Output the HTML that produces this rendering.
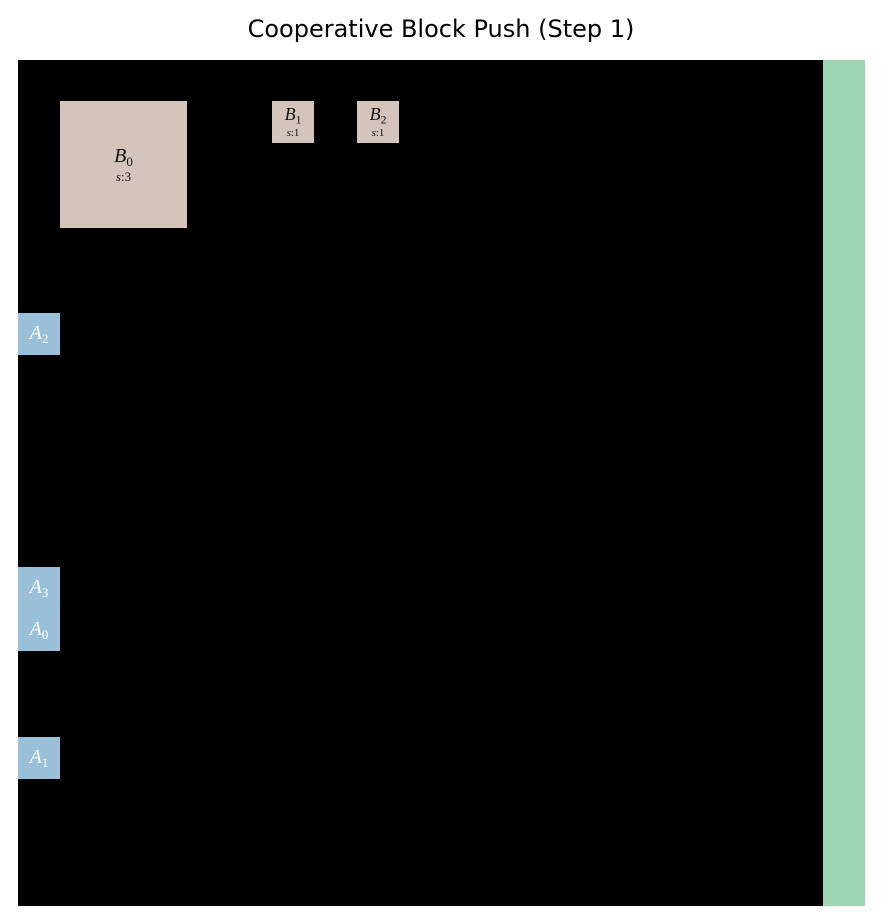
<!DOCTYPE html>
<html><head><meta charset="utf-8"><style>
body{margin:0;width:882px;height:924px;background:#fff;position:relative;overflow:hidden;font-family:"Liberation Serif",serif}
.t{position:absolute;top:15px;left:0;width:882px;text-align:center;font-family:"DejaVu Sans",sans-serif;font-size:24px;color:#000}
.bg{position:absolute;left:18px;top:60px;width:805px;height:846px;background:#000}
.g{position:absolute;left:823px;top:60px;width:42px;height:846px;background:#9dd4b2}
.b{position:absolute;background:#d5c4bb;color:#111;text-align:center;display:flex;flex-direction:column;justify-content:center;align-items:center;font-style:italic;line-height:1}
.a{position:absolute;left:18px;width:42px;height:42px;background:#9abfd9;color:#fff;font-style:italic;font-size:20px;display:flex;justify-content:center;align-items:center;line-height:1}
sub{font-style:normal;font-size:0.65em;vertical-align:-0.3em}
.s{font-size:13px;margin-top:3px}
.s span{font-style:normal}
</style></head><body>
<div class="t">Cooperative Block Push (Step 1)</div>
<div class="bg"></div><div class="g"></div>
<div class="b" style="left:60px;top:101px;width:127px;height:127px;font-size:20px"><div>B<sub>0</sub></div><div class="s">s<span>:3</span></div></div>
<div class="b" style="left:272px;top:101px;width:42px;height:42px;font-size:18px"><div>B<sub>1</sub></div><div class="s" style="font-size:11px;margin-top:1px">s<span>:1</span></div></div>
<div class="b" style="left:357px;top:101px;width:42px;height:42px;font-size:18px"><div>B<sub>2</sub></div><div class="s" style="font-size:11px;margin-top:1px">s<span>:1</span></div></div>
<div class="a" style="top:313px"><span>A<sub>2</sub></span></div>
<div class="a" style="top:567px"><span>A<sub>3</sub></span></div>
<div class="a" style="top:609px"><span>A<sub>0</sub></span></div>
<div class="a" style="top:737px"><span>A<sub>1</sub></span></div>
</body></html>
